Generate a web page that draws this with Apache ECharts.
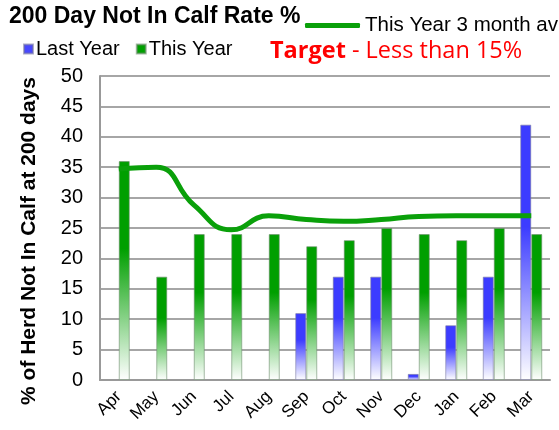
<!DOCTYPE html>
<html><head><meta charset="utf-8">
<script src="https://cdn.jsdelivr.net/npm/echarts@6/dist/echarts.min.js"></script>
<style>html,body{margin:0;padding:0;background:#fff}#c{width:559px;height:430px}</style>
</head><body><div id="c"></div>
<script>
var months = ['Apr','May','Jun','Jul','Aug','Sep','Oct','Nov','Dec','Jan','Feb','Mar'];
var lastYear = [null,null,null,null,null,11,17,17,1,9,17,42];
var thisYear = [36,17,24,24,24,22,23,25,24,23,25,24];
var avg3 = [34.7,35.0,28.8,24.7,27.0,26.4,26.1,26.4,26.9,27.0,27.0,27.0];
var yTicks = [0,5,10,15,20,25,30,35,40,45,50];

function grad(c){
  return new echarts.graphic.LinearGradient(0,0,0,1,[
    {offset:0,color:c},{offset:0.4,color:c},{offset:1,color:'#ffffff'}]);
}
var chart = echarts.init(document.getElementById('c'));
chart.setOption({
  animation:false,
  title:[{text:'200 Day Not In Calf Rate %',left:9,top:5,padding:0,
    textStyle:{fontFamily:'Liberation Sans',fontWeight:'bold',fontSize:23,color:'#000'}},
    {text:'{b|Target}{n| - Less than 15%}',left:270,top:39,padding:0,
     textStyle:{rich:{b:{fontFamily:'Open Sans',fontWeight:'bold',fontSize:23.5,color:'#ff0000'},
       n:{fontFamily:'Open Sans',fontWeight:'normal',fontSize:23.5,color:'#ff0000'}}}}],
  legend:[{data:[{name:'This Year 3 month av',icon:'roundRect',itemStyle:{color:'#0aa00a'}}],
     left:305,top:15,padding:0,itemWidth:55,itemHeight:5,itemGap:4,
     textStyle:{fontFamily:'Liberation Sans',fontSize:20.5,color:'#000',padding:[0,0,0,0]}},
    {data:[{name:'Last Year',itemStyle:{color:'#4848ff'}},{name:'This Year',itemStyle:{color:'#00a000'}}],
     icon:'rect',left:23,top:39,padding:0,itemWidth:9,itemHeight:9,itemGap:16,
     textStyle:{fontFamily:'Liberation Sans',fontSize:20,color:'#000',padding:[0,0,0,-2]}}],
  grid:{left:100,right:9,top:76,bottom:50},
  xAxis:{type:'category',data:months,
    axisLine:{lineStyle:{color:'#999',width:2}},axisTick:{show:false},
    axisLabel:{rotate:45,fontFamily:'Liberation Sans',fontSize:17,color:'#000',margin:14}},
  yAxis:{type:'value',min:0,max:50,interval:5,
    name:'% of Herd Not In Calf at 200 days',nameLocation:'middle',nameGap:60,
    nameTextStyle:{fontFamily:'Liberation Sans',fontWeight:'bold',fontSize:21,color:'#000',padding:[0,26,0,0]},
    axisLine:{show:true,lineStyle:{color:'#999',width:2}},axisTick:{show:false},
    splitLine:{lineStyle:{color:'#a6a6a6',width:2}},
    axisLabel:{fontFamily:'Liberation Sans',fontSize:20,color:'#000',margin:17,
      formatter:function(v){return yTicks.indexOf(v)>=0?String(v):'';}}},
  series:[
    {name:'Last Year',type:'bar',data:lastYear,barWidth:11,barGap:'0%',
     itemStyle:{color:grad('#3c3cff'),borderColor:'rgba(120,120,160,0.6)',borderWidth:1}},
    {name:'This Year',type:'bar',data:thisYear,barWidth:11,barGap:'0%',
     itemStyle:{color:grad('#009f00'),borderColor:'rgba(110,140,110,0.6)',borderWidth:1}},
    {name:'This Year 3 month av',type:'line',data:avg3,smooth:0.5,showSymbol:false,
     lineStyle:{color:'#0aa00a',width:5},itemStyle:{color:'#0aa00a'}}
  ]
});
</script></body></html>
